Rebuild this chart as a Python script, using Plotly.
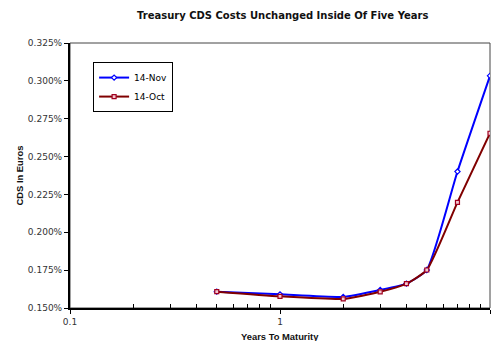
import plotly.graph_objects as go

years = [0.5, 1, 2, 3, 4, 5, 7, 10]
nov_14 = [0.1608, 0.1590, 0.1573, 0.1619, 0.1661, 0.1751, 0.2401, 0.3033]
oct_14 = [0.1608, 0.1577, 0.1560, 0.1607, 0.1661, 0.1751, 0.2198, 0.2654]
y_ticks = [0.150, 0.175, 0.200, 0.225, 0.250, 0.275, 0.300, 0.325]
x_ticks = [0.1, 1, 10]
x_minor = [0.2, 0.3, 0.4, 0.5, 0.6, 0.7, 0.8, 0.9, 2, 3, 4, 5, 6, 7, 8, 9]

SANS = "Liberation Sans, Arial, sans-serif"
WIDE = "DejaVu Sans, sans-serif"

fig = go.Figure()
fig.add_trace(go.Scatter(
    x=years, y=nov_14, name="14-Nov", mode="lines+markers",
    line=dict(color="#0000FF", width=2, shape="spline", smoothing=0.5),
    marker=dict(symbol="diamond", size=4, color="#FFFFFF",
                line=dict(color="#0000FF", width=1.2)),
))
fig.add_trace(go.Scatter(
    x=years, y=oct_14, name="14-Oct", mode="lines+markers",
    line=dict(color="#800000", width=2, shape="spline", smoothing=0.5),
    marker=dict(symbol="square", size=4, color="#F4C8D0",
                line=dict(color="#A00020", width=1.2)),
))

fig.update_layout(
    width=493, height=341,
    margin=dict(l=70, r=3, t=43, b=33),
    paper_bgcolor="white", plot_bgcolor="white",
    font=dict(family=WIDE, size=9, color="#222222"),
    showlegend=True,
    legend=dict(x=0.055, y=0.928, xanchor="left", yanchor="top",
                bordercolor="#000000", borderwidth=1, bgcolor="white",
                font=dict(family=WIDE, size=9, color="#000000"),
                tracegroupgap=0, itemwidth=30),
    xaxis=dict(type="log", range=[-1, 1], tickvals=x_ticks,
               ticktext=["0.1", "1", "10"],
               ticks="outside", ticklen=4, tickcolor="black", tickwidth=1,
               showline=True, linecolor="black", linewidth=2,
               showgrid=False, zeroline=False,
               minor=dict(tickmode="array", tickvals=x_minor, ticks="inside",
                          ticklen=4, tickcolor="black", tickwidth=1, showgrid=False),
               tickfont=dict(family=WIDE, size=9, color="#333333")),
    yaxis=dict(range=[0.150, 0.325], tickvals=y_ticks,
               ticktext=[f"{v:.3f}%" for v in y_ticks],
               ticks="outside", ticklen=4, tickcolor="black", tickwidth=1,
               showline=True, linecolor="black", linewidth=2,
               showgrid=False, zeroline=False,
               tickfont=dict(family=WIDE, size=9, color="#333333")),
    shapes=[dict(type="rect", xref="paper", yref="paper", x0=0, x1=1, y0=0, y1=1,
                 line=dict(color="#444444", width=1), layer="below")],
    annotations=[
        dict(text="<b>Treasury CDS Costs Unchanged Inside Of Five Years</b>",
             xref="paper", yref="paper", x=(282 - 70) / 420, y=(308 - 15) / 265,
             xanchor="center", yanchor="middle", showarrow=False,
             font=dict(family=WIDE, size=10, color="#111111")),
        dict(text="<b>Years To Maturity</b>", xref="paper", yref="paper",
             x=0.5, y=(308 - 336) / 265, xanchor="center", yanchor="middle",
             showarrow=False, font=dict(family=SANS, size=9.4, color="#111111")),
        dict(text="<b>CDS In Euros</b>", xref="paper", yref="paper",
             x=(19 - 70) / 420, y=0.5, xanchor="center", yanchor="middle",
             textangle=-90, showarrow=False,
             font=dict(family=SANS, size=9.4, color="#111111")),
    ],
)

fig.write_html("out.html")
